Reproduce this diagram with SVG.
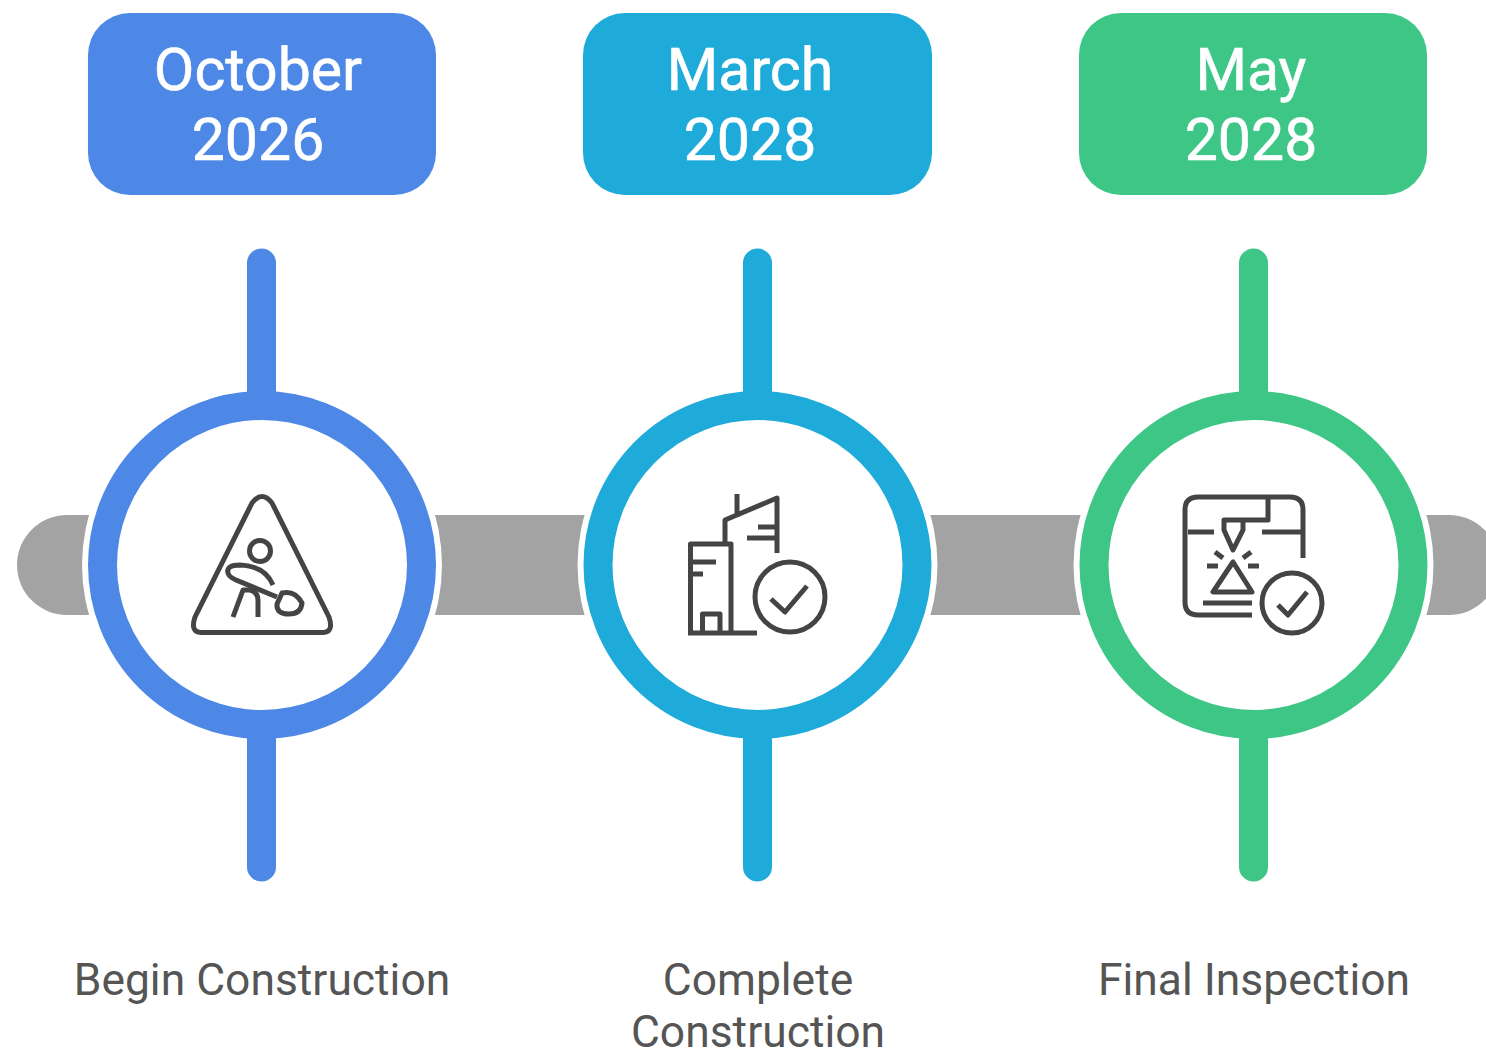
<svg xmlns="http://www.w3.org/2000/svg" width="1486" height="1053" viewBox="0 0 1486 1053">
<style>
.date{font:400 59px Roboto,"Liberation Sans",sans-serif;fill:#fff;stroke:#fff;stroke-width:.6;text-anchor:middle}
.lab{font:400 44.400px Roboto,"Liberation Sans",sans-serif;fill:#555;text-anchor:middle}
.ic{fill:none;stroke:#444;stroke-width:5;stroke-linejoin:round}
.halo{fill:#fff}
.ring{fill:#fff;stroke-width:29}
.stem{stroke-width:29;stroke-linecap:round;fill:none}
.blue{stroke:#4e88e7}.cyan{stroke:#1eabda}.green{stroke:#3ec686}
</style>
<rect width="1486" height="1053" fill="#fff"/>
<g id="connectors">
<path id="bar" d="M67 515H1449A50 50 0 0 1 1499 565A50 50 0 0 1 1449 615H67A50 50 0 0 1 17 565A50 50 0 0 1 67 515Z" fill="#a3a3a3"/>
<circle class="halo" cx="262" cy="565" r="180"/>
<circle class="halo" cx="757.500" cy="565" r="180"/>
<circle class="halo" cx="1253.500" cy="565" r="180"/>
<path class="stem blue" d="M261.500 263V410M261.500 720V867"/>
<path class="stem cyan" d="M757.500 263V410M757.500 720V867"/>
<path class="stem green" d="M1253.500 263V410M1253.500 720V867"/>
</g>
<g id="node-october">
<rect x="88" y="13" width="348" height="182" rx="42" fill="#4e88e7"/>
<text class="date" x="258" y="90">October</text>
<text class="date" x="258" y="160">2026</text>
<circle class="ring blue" cx="262" cy="565" r="159.500"/>
<g class="ic">
<path d="M201 632.500H323Q334 632 329 617L272 503Q262 490 252 503L195 617Q190 632 201 632.500Z"/>
<circle cx="260" cy="551" r="10.500"/>
<path d="M273 585Q265 566 240 565Q226 565 228 573Q229 577 236 580L277 597"/>
<path d="M233 617L243 590H250Q258 592 258 600V617"/>
<path d="M282 593Q295 590 302 603Q301 614 289 614Q276 614 277 604Z"/>
</g>
<text class="lab" x="262" y="995">Begin Construction</text>
</g>
<g id="node-march">
<rect x="583" y="13" width="349" height="182" rx="42" fill="#1eabda"/>
<text class="date" x="750" y="90">March</text>
<text class="date" x="750" y="160">2028</text>
<circle class="ring cyan" cx="757.500" cy="565" r="159.500"/>
<g class="ic">
<path d="M690.500 633V544H731V633M688 633H757M693 562H716M693 574H703M702.500 633V614H720V633"/>
<path d="M725 544V520L777 498V553M737 494V517M758 527H777M747 538H777"/>
<circle cx="790" cy="597" r="35"/>
<path d="M771 599L785 612L807 586"/>
</g>
<text class="lab" x="758" y="995">Complete</text>
<text class="lab" x="758" y="1047">Construction</text>
</g>
<g id="node-may">
<rect x="1079" y="13" width="348" height="182" rx="42" fill="#3ec686"/>
<text class="date" x="1251" y="90">May</text>
<text class="date" x="1251" y="160">2028</text>
<circle class="ring green" cx="1253.500" cy="565" r="159.500"/>
<g class="ic">
<path d="M1303 558V510Q1303 497 1290 497H1198Q1185 497 1185 510V602Q1185 615 1198 615H1252"/>
<path d="M1188 532H1214M1262 532H1302M1268 498V520H1224V530L1233 550L1243 530V520"/>
<path d="M1215 552L1223 558M1207 566H1218M1251 552L1243 558M1248 566H1259M1203 603H1252"/>
<path d="M1233 562L1213 592H1252Z"/>
<circle cx="1292" cy="603" r="30"/>
<path d="M1278 605L1288 615L1307 592"/>
</g>
<text class="lab" x="1254" y="995">Final Inspection</text>
</g>
</svg>
